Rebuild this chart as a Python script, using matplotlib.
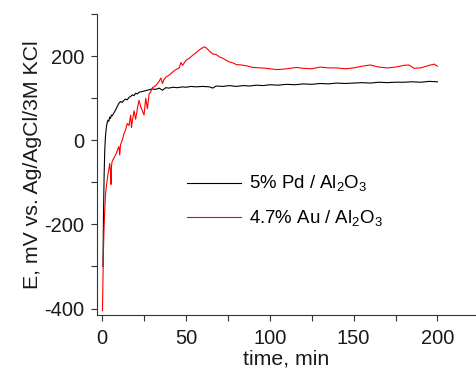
import matplotlib
matplotlib.use("Agg")
import matplotlib.pyplot as plt
from matplotlib.ticker import MultipleLocator

plt.rcParams['font.family'] = ['Liberation Sans', 'DejaVu Sans']
plt.rcParams['mathtext.fontset'] = 'custom'
plt.rcParams['mathtext.rm'] = 'Liberation Sans'
plt.rcParams['axes.unicode_minus'] = False

pd_t = [0.5, 0.8, 1.2, 1.6, 2.0, 2.5, 3.0, 3.5, 4.0, 4.5, 5.0, 5.5, 6.0, 7.0, 8.0, 9.0, 10, 11, 12, 13,
        14, 15, 16, 17, 18, 19, 20, 21, 22, 24, 26, 28, 30, 32, 34, 36, 38, 40, 42, 45, 48, 50, 53, 56,
        60, 64, 66, 68, 72, 76, 80, 84, 88, 92, 96, 100, 105, 110, 115, 120, 125, 130, 135, 140, 145,
        150, 155, 160, 165, 170, 175, 180, 185, 190, 195, 200]
pd_E = [-300, -180, -80, -20, 10, 30, 42, 48, 45, 55, 52, 60, 58, 65, 72, 80, 88, 92, 90, 95,
        98, 96, 102, 104, 108, 106, 112, 110, 114, 116, 118, 120, 122, 121, 124, 119, 125, 124, 126, 125, 127, 126, 128, 127,
        128, 127, 124, 129, 128, 130, 128, 130, 129, 131, 130, 132, 131, 133, 132, 134, 133, 135, 134, 136, 135,
        136, 137, 136, 138, 137, 138, 138, 139, 138, 140, 139]

au_t = [0.2, 0.5, 0.8, 1.1, 1.5, 2.0, 2.5, 3.0, 3.5, 4.0, 4.5, 5.0, 5.3, 5.6, 6.0, 7.0, 8.0, 9.0, 10, 10.5,
        11, 12, 13, 14, 15, 16, 17, 17.5, 18, 19, 20, 21, 22, 23, 24, 25, 26, 27, 28, 29, 30, 32, 34, 35,
        36, 37, 38, 40, 42, 44, 46, 47, 48, 50, 52, 54, 56, 58, 60, 61, 62, 64, 66, 68, 70, 72, 74, 76,
        78, 80, 83, 86, 90, 95, 100, 104, 108, 112, 116, 120, 125, 130, 135, 140, 145, 150, 155, 160,
        165, 170, 175, 180, 183, 186, 190, 195, 198, 200]
au_E = [-405, -330, -260, -215, -170, -130, -110, -95, -80, -70, -55, -75, -105, -60, -50, -42, -35, -25, -15, -35,
        -10, 0, 15, 25, 40, 35, 60, 30, 45, 70, 50, 75, 95, 80, 70, 60, 100, 75, 110, 115, 125, 130, 140, 148,
        135, 145, 150, 155, 162, 168, 172, 185, 178, 190, 195, 202, 208, 215, 220, 222, 220, 212, 205, 204, 198, 195, 190, 186,
        184, 180, 179, 177, 173, 172, 170, 168, 169, 171, 173, 171, 170, 174, 172, 172, 170, 172, 176, 179,
        174, 172, 174, 178, 179, 171, 172, 178, 181, 176]

labels = ['5% Pd / Al$_2$O$_3$', '4.7% Au / Al$_2$O$_3$']

fig = plt.figure(figsize=(4.76, 3.70), dpi=100)
ax = fig.add_axes([0.204, 0.149, 0.796, 0.813])
ax.plot(pd_t, pd_E, color='black', lw=0.8, label=labels[0])
ax.plot(au_t, au_E, color='red', lw=0.8, label=labels[1])

ax.set_xlim(-3, 223)
ax.set_ylim(-415, 300)
ax.spines['top'].set_visible(False)
ax.spines['right'].set_visible(False)
for s in ('left', 'bottom'):
    ax.spines[s].set_color('#333333')
ax.xaxis.set_major_locator(MultipleLocator(50))
ax.xaxis.set_minor_locator(MultipleLocator(25))
ax.yaxis.set_major_locator(MultipleLocator(200))
ax.yaxis.set_minor_locator(MultipleLocator(100))
ax.tick_params(which='both', direction='out', length=4.5, width=0.8, labelsize=14.5,
               color='#333333', labelcolor='#1a1a1a')
ax.tick_params(axis='x', pad=5.5)
ax.tick_params(axis='y', pad=5)
ax.set_xlabel('time, min', fontsize=15.3, labelpad=1, color='#1a1a1a')
ax.set_ylabel('E, mV vs. Ag/AgCl/3M KCl', fontsize=15.3, labelpad=1, color='#1a1a1a')

ax.legend(frameon=False, loc='center left', bbox_to_anchor=(0.193, 0.377), fontsize=13.4,
          handlelength=2.9, handletextpad=0.45, labelspacing=0.75)

fig.savefig('out.png', dpi=100)
